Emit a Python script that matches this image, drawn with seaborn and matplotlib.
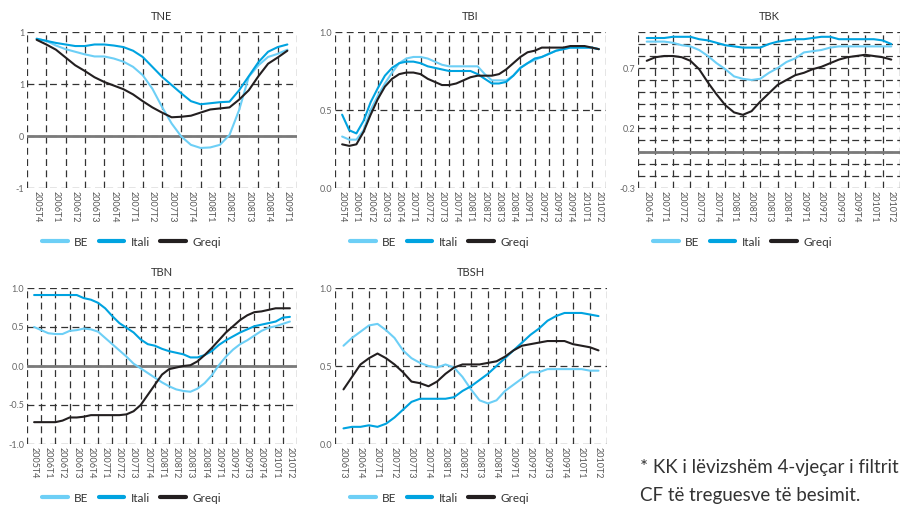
import numpy as np
import pandas as pd
import matplotlib
matplotlib.use("Agg")
from matplotlib import pyplot as plt
import seaborn as sns

# quarter labels of each panel
q_tne = ["2005T4", "2006T1", "2006T2", "2006T3", "2006T4", "2007T1", "2007T2",
         "2007T3", "2007T4", "2008T1", "2008T2", "2008T3", "2008T4", "2009T1"]
q_long = ["2005T4", "2006T1", "2006T2", "2006T3", "2006T4", "2007T1", "2007T2",
          "2007T3", "2007T4", "2008T1", "2008T2", "2008T3", "2008T4", "2009T1",
          "2009T2", "2009T3", "2009T4", "2010T1", "2010T2"]
q_tbk = q_long[4:]
q_tbsh = q_long[3:]

# values read every half quarter (quarter, then the boundary after it)
tne_be = [1.87, 1.83, 1.74, 1.67, 1.62, 1.57, 1.53, 1.53, 1.49, 1.43, 1.33, 1.17, 0.91, 0.56,
          0.24, -0.01, -0.17, -0.23, -0.22, -0.17, 0.02, 0.50, 1.14, 1.36, 1.52, 1.58, 1.66]
tne_it = [1.87, 1.83, 1.79, 1.76, 1.73, 1.73, 1.76, 1.76, 1.74, 1.71, 1.64, 1.52, 1.33, 1.14,
          0.98, 0.82, 0.67, 0.61, 0.63, 0.65, 0.66, 0.88, 1.15, 1.42, 1.62, 1.71, 1.76]
tne_gr = [1.85, 1.76, 1.66, 1.51, 1.36, 1.25, 1.13, 1.04, 0.97, 0.90, 0.80, 0.67, 0.55, 0.45,
          0.36, 0.37, 0.39, 0.45, 0.51, 0.53, 0.55, 0.70, 0.88, 1.15, 1.39, 1.51, 1.64]

tbi_be = [0.33, 0.31, 0.31, 0.37, 0.50, 0.59, 0.67, 0.74, 0.80, 0.83, 0.84, 0.84, 0.83, 0.81,
          0.79, 0.78, 0.78, 0.78, 0.78, 0.78, 0.73, 0.69, 0.69, 0.69, 0.72, 0.77, 0.80, 0.82,
          0.84, 0.86, 0.88, 0.89, 0.90, 0.90, 0.90, 0.90, 0.89]
tbi_it = [0.47, 0.37, 0.35, 0.43, 0.55, 0.64, 0.72, 0.77, 0.80, 0.81, 0.81, 0.80, 0.78, 0.77,
          0.76, 0.75, 0.75, 0.75, 0.75, 0.73, 0.70, 0.67, 0.67, 0.68, 0.72, 0.77, 0.80, 0.83,
          0.84, 0.86, 0.88, 0.89, 0.90, 0.90, 0.90, 0.90, 0.89]
tbi_gr = [0.28, 0.27, 0.28, 0.36, 0.47, 0.57, 0.65, 0.70, 0.73, 0.74, 0.74, 0.73, 0.70, 0.68,
          0.66, 0.66, 0.67, 0.69, 0.71, 0.72, 0.72, 0.72, 0.73, 0.76, 0.80, 0.84, 0.87, 0.88,
          0.90, 0.90, 0.90, 0.90, 0.91, 0.91, 0.91, 0.90, 0.89]

tbk_be = [0.92, 0.92, 0.92, 0.91, 0.89, 0.88, 0.85, 0.80, 0.74, 0.69, 0.63, 0.61, 0.60, 0.61,
          0.66, 0.70, 0.75, 0.78, 0.83, 0.84, 0.85, 0.87, 0.88, 0.88, 0.88, 0.88, 0.88, 0.88, 0.88]
tbk_it = [0.95, 0.95, 0.95, 0.96, 0.96, 0.96, 0.94, 0.93, 0.91, 0.89, 0.88, 0.87, 0.87, 0.87,
          0.90, 0.92, 0.93, 0.94, 0.94, 0.95, 0.96, 0.96, 0.94, 0.94, 0.94, 0.94, 0.94, 0.93, 0.90]
tbk_gr = [0.76, 0.79, 0.80, 0.80, 0.79, 0.76, 0.69, 0.58, 0.48, 0.39, 0.33, 0.31, 0.34, 0.42,
          0.49, 0.56, 0.60, 0.64, 0.66, 0.69, 0.71, 0.74, 0.77, 0.79, 0.80, 0.81, 0.80, 0.79, 0.77]

tbn_be = [0.50, 0.46, 0.42, 0.41, 0.41, 0.45, 0.46, 0.48, 0.47, 0.44, 0.36, 0.28, 0.20, 0.12,
          0.03, -0.03, -0.09, -0.15, -0.21, -0.26, -0.30, -0.32, -0.33, -0.29, -0.22, -0.12,
          0.01, 0.12, 0.21, 0.28, 0.33, 0.39, 0.45, 0.49, 0.51, 0.54, 0.57]
tbn_it = [0.91, 0.91, 0.91, 0.91, 0.91, 0.91, 0.91, 0.87, 0.85, 0.81, 0.74, 0.64, 0.55, 0.49,
          0.43, 0.34, 0.28, 0.26, 0.22, 0.19, 0.17, 0.15, 0.11, 0.11, 0.14, 0.19, 0.27, 0.33,
          0.38, 0.43, 0.47, 0.51, 0.53, 0.55, 0.57, 0.62, 0.63]
tbn_gr = [-0.72, -0.72, -0.72, -0.72, -0.70, -0.66, -0.66, -0.65, -0.63, -0.63, -0.63, -0.63,
          -0.63, -0.62, -0.58, -0.50, -0.37, -0.24, -0.11, -0.04, -0.02, 0.00, 0.01, 0.06, 0.14,
          0.23, 0.33, 0.43, 0.51, 0.59, 0.65, 0.69, 0.70, 0.72, 0.74, 0.74, 0.74]

tbsh_be = [0.63, 0.68, 0.72, 0.76, 0.77, 0.73, 0.68, 0.60, 0.55, 0.52, 0.50, 0.49, 0.51, 0.49,
           0.43, 0.35, 0.28, 0.26, 0.28, 0.34, 0.38, 0.42, 0.46, 0.46, 0.48, 0.48, 0.48, 0.48,
           0.48, 0.47, 0.47]
tbsh_it = [0.10, 0.11, 0.11, 0.12, 0.11, 0.13, 0.17, 0.22, 0.27, 0.29, 0.29, 0.29, 0.29, 0.30,
           0.34, 0.37, 0.41, 0.45, 0.50, 0.55, 0.60, 0.65, 0.70, 0.74, 0.79, 0.82, 0.84, 0.84,
           0.84, 0.83, 0.82]
tbsh_gr = [0.35, 0.43, 0.51, 0.55, 0.58, 0.55, 0.51, 0.46, 0.40, 0.39, 0.37, 0.40, 0.45, 0.49,
           0.51, 0.51, 0.51, 0.52, 0.53, 0.56, 0.60, 0.63, 0.64, 0.65, 0.66, 0.66, 0.66, 0.64,
           0.63, 0.62, 0.60]

series_names = ["BE", "Itali", "Greqi"]
colors = {"BE": "#6dcff6", "Itali": "#00a3e0", "Greqi": "#231f20"}

panels = [
    # title, quarters, data, rect (px: left, top, right, bottom), yticks, ylabels, ylim, minor step
    ("TNE", q_tne, (tne_be, tne_it, tne_gr), (27, 32, 297, 188),
     [-1, 0, 1, 2], ["-1", "0", "1", "1"], (-1, 2), None),
    ("TBI", q_long, (tbi_be, tbi_it, tbi_gr), (335, 32, 606, 188),
     [0, 0.5, 1.0], ["0.0", "0.5", "1.0"], (0, 1), None),
    ("TBK", q_tbk, (tbk_be, tbk_it, tbk_gr), (638, 32, 900, 188),
     [-0.3, 0.2, 0.7], ["-0.3", "0.2", "0.7"], (-0.3, 1.0), 0.1),
    ("TBN", q_long, (tbn_be, tbn_it, tbn_gr), (27, 288, 297, 444),
     [-1, -0.5, 0, 0.5, 1], ["-1.0", "-0.5", "0.0", "0.5", "1.0"], (-1, 1), None),
    ("TBSH", q_tbsh, (tbsh_be, tbsh_it, tbsh_gr), (335, 288, 607, 444),
     [0, 0.5, 1.0], ["0.0", "0.5", "1.0"], (0, 1), None),
]

sns.set_style("white")
plt.rcParams["font.family"] = ["Lato", "DejaVu Sans"]

W, H = 913, 511
fig = plt.figure(figsize=(W / 100, H / 100), dpi=100)
grid_kw = dict(color="#333333", linestyle=(0, (5.5, 3.5)), linewidth=0.9)

for title, quarters, data, (l, t, r, b), yt, yl, ylim, minor in panels:
    ax = fig.add_axes([l / W, 1 - b / H, (r - l) / W, (b - t) / H])
    n = len(quarters)
    frames = []
    for name, vals in zip(series_names, data):
        frames.append(pd.DataFrame({"pos": np.arange(len(vals)) / 2, "value": vals, "series": name}))
    df = pd.concat(frames)
    sns.lineplot(data=df, x="pos", y="value", hue="series", palette=colors,
                 hue_order=series_names, linewidth=1.5, ax=ax, legend=False)

    ax.set_xlim(-0.5, n - 0.5)
    ax.set_ylim(*ylim)
    for s in ax.spines.values():
        s.set_visible(False)
    # vertical grid at category boundaries
    for xb in np.arange(n + 1) - 0.5:
        ax.axvline(xb, zorder=0, **grid_kw)
    # horizontal grid
    hlines = list(yt)
    if minor:
        hlines = list(np.round(np.arange(ylim[0], ylim[1] + 1e-9, minor), 2))
    hlines = sorted(set(hlines + [ylim[0], ylim[1]]))
    for yv in hlines:
        ax.axhline(yv, zorder=0, **grid_kw)
    if ylim[0] < 0 < ylim[1]:
        ax.axhline(0, color="#7a7a7a", linewidth=2.0, zorder=1)

    ax.set_xticks(np.arange(n))
    ax.set_xticklabels(quarters, rotation=270, fontsize=6.5, color="#555555")
    ax.set_yticks(yt)
    ax.set_yticklabels(yl, fontsize=6.5, color="#666666")
    ax.tick_params(axis="both", length=0, pad=2)
    ax.set_xlabel("")
    ax.set_ylabel("")
    ax.set_title(title, fontsize=8, color="#333333", pad=9)

    handles = [plt.Line2D([], [], color=colors[s], linewidth=3) for s in series_names]
    leg_y = 1 - (b + 54) / H
    ax.legend(handles, series_names, loc="center left", ncol=3, frameon=False,
              bbox_to_anchor=((l + 4) / W, leg_y), bbox_transform=fig.transFigure,
              fontsize=8.5, handlelength=2.2, handletextpad=0.5, columnspacing=0.9,
              labelcolor="#333333")

fig.text(640 / W, 1 - 468 / H, "* KK i lëvizshëm 4-vjeçar i filtrit", fontsize=13.5,
         color="#333333", va="center", ha="left")
fig.text(640 / W, 1 - 495 / H, "CF të treguesve të besimit.", fontsize=13.5,
         color="#333333", va="center", ha="left")

fig.savefig("out.png", dpi=100)
